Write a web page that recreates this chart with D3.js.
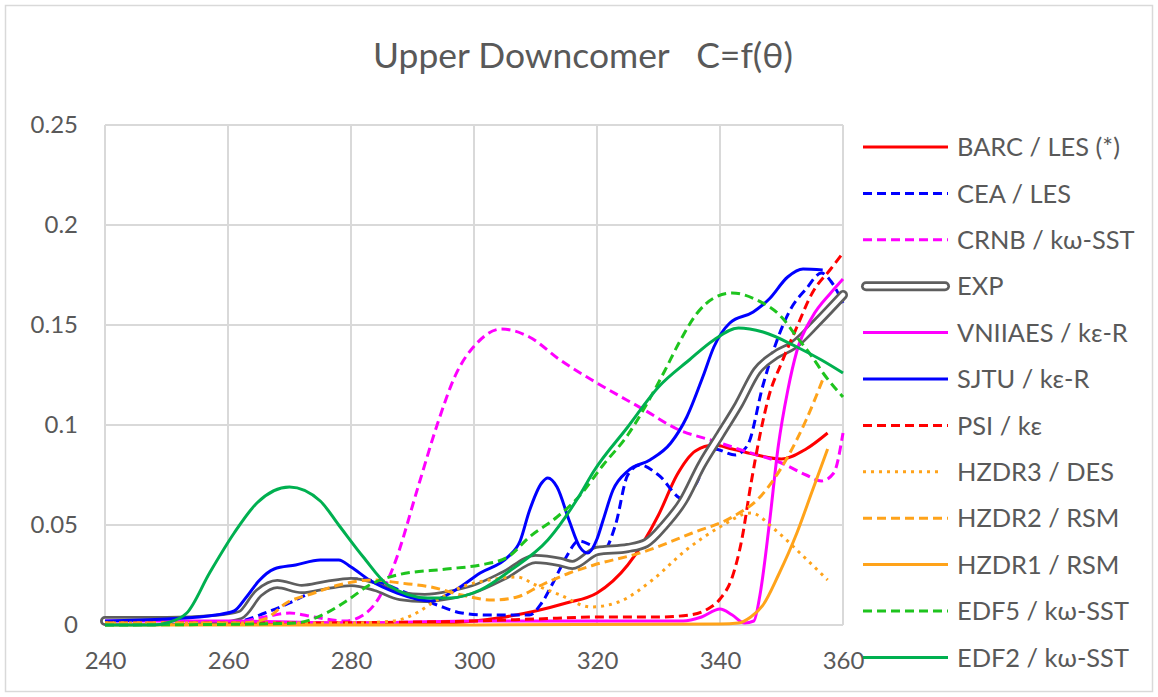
<!DOCTYPE html>
<html>
<head>
<meta charset="utf-8">
<script src="https://cdn.jsdelivr.net/npm/d3@7"></script>
<style>
  body { margin: 0; background: #fff; }
  svg text { font-family: Lato, "Open Sans", sans-serif; fill: #595959; }
</style>
</head>
<body>
<svg id="chart" width="1158" height="697"></svg>
<script>
// DATA: angle theta (deg) vs concentration C
const xTicks = [240, 260, 280, 300, 320, 340, 360];
const yTicks = [0, 0.05, 0.1, 0.15, 0.2, 0.25];

const seriesNames = [
  "BARC / LES (*)", "CEA / LES", "CRNB / kω-SST", "EXP", "VNIIAES / kε-R", "SJTU / kε-R",
  "PSI / kε", "HZDR3 / DES", "HZDR2 / RSM", "HZDR1 / RSM", "EDF5 / kω-SST", "EDF2 / kω-SST"
];

const barcLes = [[240,0.001],[260,0.001],[280,0.001],[295,0.001],[300,0.002],[305,0.004],[310,0.007],
  [315,0.011],[320,0.016],[325,0.03],[330,0.055],[333,0.075],[336,0.087],[339,0.09],[342,0.088],
  [346,0.085],[350,0.083],[354,0.088],[357.5,0.096]];

const ceaLes = [[240,0.001],[255,0.001],[262,0.002],[266,0.006],[270,0.011],[274,0.017],[278,0.022],
  [281,0.023],[285,0.021],[289,0.016],[294,0.01],[298,0.006],[302,0.005],[306,0.005],[309,0.005],
  [311,0.011],[313,0.022],[315,0.034],[317,0.042],[319,0.04],[321,0.037],[323,0.05],[325,0.075],
  [327,0.08],[330,0.075],[334,0.063],[336,0.07],[339,0.088],[342.5,0.085],[344.5,0.09],[347,0.12],
  [349,0.14],[351.5,0.158],[354,0.168],[356.5,0.176],[358,0.172],[360,0.161]];

const crnbSst = [[240,0.001],[260,0.001],[266,0.004],[270,0.006],[274,0.004],[279,0.002],[282,0.005],
  [284,0.011],[287,0.03],[291,0.07],[294,0.1],[297,0.125],[300.5,0.141],[304.5,0.148],[309,0.144],
  [314,0.1325],[320,0.121],[328,0.107],[333,0.098],[339,0.092],[344,0.087],[350,0.081],[354,0.075],
  [356.5,0.072],[358.5,0.076],[360,0.096]];

const expData = [[240,0.002],[250,0.002],[258,0.003],[262,0.005],[265,0.016],[268,0.0205],[272,0.018],
  [276,0.02],[280,0.0215],[284,0.019],[288,0.0145],[292,0.0135],[296,0.015],[300,0.018],[305,0.025],
  [310,0.033],[314,0.0315],[316,0.03],[320,0.037],[325,0.0385],[328,0.041],[331,0.05],[334,0.062],
  [337,0.08],[340,0.095],[343,0.11],[346,0.127],[349,0.135],[352,0.14],[356,0.152],[360,0.165]];

const vniiaesKeR = [[240,0.002],[260,0.002],[280,0.001],[300,0.002],[320,0.002],[334,0.002],[337,0.004],
  [340,0.008],[342,0.005],[344,0.001],[345.5,0.002],[346.5,0.015],[348,0.05],[349.5,0.09],[351,0.117],
  [352.5,0.137],[355,0.154],[358,0.166],[360,0.173]];

const sjtuKeR = [[240,0.002],[250,0.003],[258,0.005],[261,0.007],[263,0.014],[265,0.022],[267.5,0.028],
  [271,0.03],[275,0.0325],[278,0.0325],[280,0.029],[283,0.0225],[287.5,0.016],[293,0.012],[297,0.0175],
  [301,0.026],[305.5,0.034],[307.5,0.042],[309,0.057],[311,0.071],[312,0.0735],[313.5,0.069],
  [315.5,0.052],[317.2,0.039],[318.5,0.036],[320,0.043],[321,0.0525],[322.6,0.0675],[325,0.077],
  [328.6,0.0825],[332,0.091],[334.6,0.104],[337.2,0.124],[339,0.139],[341.6,0.151],[345.4,0.1565],
  [348,0.163],[351,0.174],[353.5,0.178],[356.7,0.1775]];

const psiKe = [[240,0.001],[270,0.001],[300,0.002],[310,0.003],[320,0.004],[330,0.004],[335,0.005],
  [338,0.008],[340,0.013],[342,0.024],[343.5,0.042],[345,0.07],[346.5,0.095],[348,0.115],[350,0.131],
  [352.5,0.149],[355,0.166],[358,0.178],[360,0.186]];

const hzdr3Des = [[240,0.001],[260,0.001],[280,0.001],[287,0.002],[290,0.005],[294,0.0125],[298,0.019],
  [302.5,0.0225],[307,0.024],[310,0.02],[314,0.015],[319,0.009],[323.5,0.0115],[329,0.0225],
  [334.5,0.0375],[340,0.049],[345,0.056],[349,0.0475],[353,0.036],[357.5,0.0225]];

const hzdr2Rsm = [[240,0.001],[262,0.001],[266,0.003],[269.5,0.011],[274,0.016],[278,0.02],[283.5,0.0225],
  [288,0.021],[293,0.019],[298,0.015],[303,0.0125],[307,0.014],[311,0.02],[315.5,0.026],[319.5,0.03],
  [327.5,0.0365],[335.5,0.046],[342,0.054],[346.5,0.064],[351,0.084],[354,0.1025],[357,0.125]];

const hzdr1Rsm = [[240,0],[300,0],[340,0.0005],[343,0.001],[345,0.004],[347,0.01],[349.5,0.025],
  [352.5,0.046],[355,0.067],[357.5,0.088]];

const edf5Sst = [[240,0],[265,0.0005],[271,0.001],[276,0.006],[279.5,0.0125],[283,0.02],[287.5,0.025],
  [295.5,0.028],[301,0.03],[305.5,0.034],[309,0.044],[313.5,0.054],[317,0.064],[321,0.08],[325,0.095],
  [328,0.11],[331,0.127],[333.5,0.142],[336.3,0.156],[339,0.1635],[342,0.166],[346,0.1625],[350,0.154],
  [352.5,0.144],[355,0.134],[357,0.125],[360,0.114]];

const edf2Sst = [[240,0],[248,0],[250,0.001],[253.3,0.006],[257,0.026],[261,0.046],[264.7,0.061],
  [270,0.069],[275,0.062],[278,0.05],[282,0.034],[286,0.02],[292.5,0.0135],[296,0.0135],[301,0.0175],
  [306,0.0275],[312,0.0425],[317,0.064],[319.5,0.077],[325,0.099],[330,0.119],[335,0.1325],[339,0.1425],
  [343,0.1485],[347,0.1465],[352.5,0.139],[356.5,0.1325],[360,0.126]];

const seriesValues = [barcLes, ceaLes, crnbSst, expData, vniiaesKeR, sjtuKeR,
  psiKe, hzdr3Des, hzdr2Rsm, hzdr1Rsm, edf5Sst, edf2Sst];

// STYLES (kept apart from the data)
const dash = "9,5", dot = "3,5";
const seriesStyles = [
  { color: "#ff0000", dash: null },
  { color: "#0000ff", dash: dash },
  { color: "#ff00ff", dash: dash },
  { color: "#5e5e5e", dash: null, double: true },
  { color: "#ff00ff", dash: null },
  { color: "#0000ff", dash: null },
  { color: "#ff0000", dash: dash },
  { color: "#ffa31a", dash: dot },
  { color: "#ffa31a", dash: dash },
  { color: "#ffa31a", dash: null },
  { color: "#1ec41e", dash: dash },
  { color: "#00b050", dash: null }
];

// SETUP
const plot = { left: 105, right: 843, top: 125, bottom: 625 };
const svg = d3.select("#chart");

svg.append("rect")
  .attr("x", 5.5).attr("y", 5.5)
  .attr("width", 1147).attr("height", 686)
  .attr("fill", "#fff")
  .attr("stroke", "#d9d9d9").attr("stroke-width", 1.5);

const x = d3.scaleLinear().domain([240, 360]).range([plot.left, plot.right]);
const y = d3.scaleLinear().domain([0, 0.25]).range([plot.bottom, plot.top]);

// GRID
const grid = svg.append("g").attr("stroke", "#d9d9d9").attr("stroke-width", 2);
grid.selectAll(".vg").data(xTicks).enter().append("line")
  .attr("x1", d => x(d)).attr("x2", d => x(d))
  .attr("y1", plot.top).attr("y2", plot.bottom);
grid.selectAll(".hg").data(yTicks).enter().append("line")
  .attr("x1", plot.left).attr("x2", plot.right)
  .attr("y1", d => y(d)).attr("y2", d => y(d));

// AXES (labels only)
const yAxis = svg.append("g")
  .attr("transform", `translate(${plot.left},0)`)
  .call(d3.axisLeft(y).tickValues(yTicks).tickSize(0).tickPadding(27).tickFormat(d => String(d)));
const xAxis = svg.append("g")
  .attr("transform", `translate(0,${plot.bottom})`)
  .call(d3.axisBottom(x).tickValues(xTicks).tickSize(0).tickFormat(d => d));
[yAxis, xAxis].forEach(a => {
  a.select(".domain").remove();
  a.selectAll("text").attr("font-size", 24).attr("fill", "#595959")
    .style("font-family", "Lato, 'Open Sans', sans-serif");
});
xAxis.selectAll("text").attr("dy", null).attr("y", 44);

// LINES
const line = d3.line()
  .x(d => x(d[0]))
  .y(d => y(d[1]))
  .curve(d3.curveMonotoneX);

const lines = svg.append("g").attr("fill", "none");
seriesValues.forEach((vals, i) => {
  const s = seriesStyles[i];
  if (s.double) {
    lines.append("path").datum(vals).attr("d", line)
      .attr("stroke", s.color).attr("stroke-width", 10)
      .attr("stroke-linejoin", "round").attr("stroke-linecap", "round");
    lines.append("path").datum(vals).attr("d", line)
      .attr("stroke", "#fff").attr("stroke-width", 4.5)
      .attr("stroke-linejoin", "round").attr("stroke-linecap", "round");
  } else {
    lines.append("path").datum(vals).attr("d", line)
      .attr("stroke", s.color).attr("stroke-width", 3)
      .attr("stroke-dasharray", s.dash)
      .attr("stroke-linejoin", "round");
  }
});

// LEGEND
const legend = svg.append("g");
seriesNames.forEach((name, i) => {
  const s = seriesStyles[i];
  const ly = 147 + i * 46.4;
  if (s.double) {
    legend.append("line").attr("x1", 866).attr("x2", 945).attr("y1", ly).attr("y2", ly)
      .attr("stroke", s.color).attr("stroke-width", 10).attr("stroke-linecap", "round");
    legend.append("line").attr("x1", 866).attr("x2", 945).attr("y1", ly).attr("y2", ly)
      .attr("stroke", "#fff").attr("stroke-width", 4.5).attr("stroke-linecap", "round");
  } else {
    legend.append("line").attr("x1", 863).attr("x2", s.dash === dot ? 940 : 948)
      .attr("y1", ly).attr("y2", ly)
      .attr("stroke", s.color).attr("stroke-width", 3)
      .attr("stroke-dasharray", s.dash);
  }
  legend.append("text")
    .attr("class", "legend-label")
    .attr("x", 957).attr("y", ly)
    .attr("dy", "0.36em")
    .attr("font-size", 24)
    .text(name);
});

// fit legend text width to the reference (BARC label ~163px)
const firstLabel = legend.select(".legend-label").node();
const legendSize = 24 * 163 / firstLabel.getComputedTextLength();
legend.selectAll(".legend-label").attr("font-size", legendSize);

// TITLE
const title = svg.append("text")
  .attr("x", 583).attr("y", 68)
  .attr("text-anchor", "middle")
  .attr("font-size", 26)
  .attr("xml:space", "preserve")
  .text("Upper Downcomer   C=f(θ)");
title.attr("font-size", 26 * 420 / title.node().getComputedTextLength());
</script>
</body>
</html>
